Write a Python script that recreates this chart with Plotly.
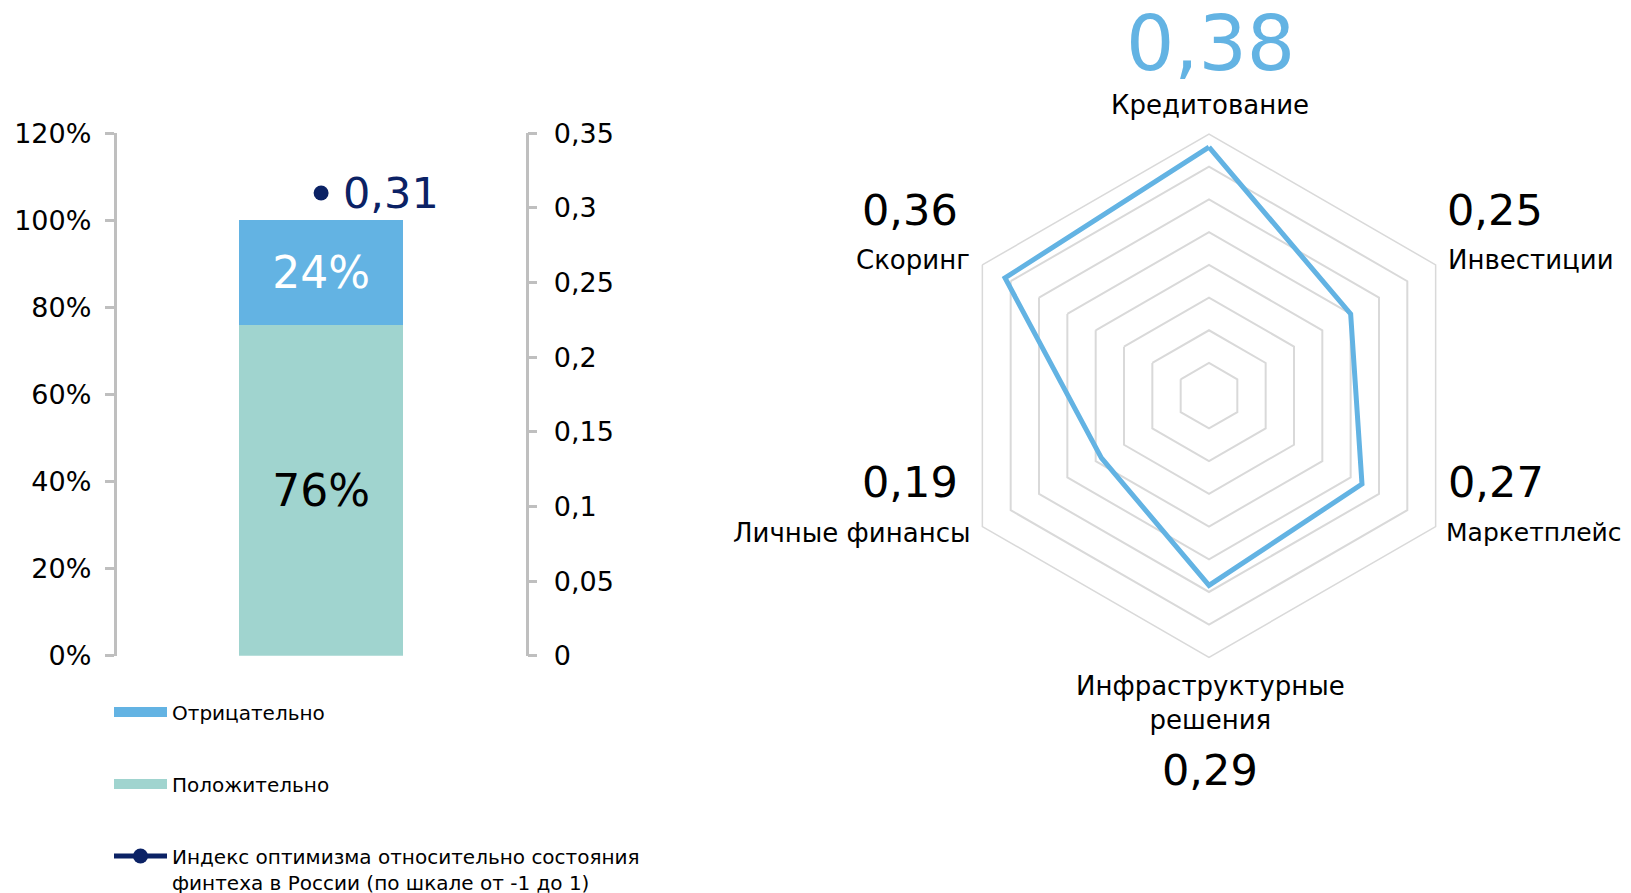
import plotly.graph_objects as go

# the page body has an 8px margin, so the figure is drawn 8px smaller and offset
OFF = 8
W, H = 1631 - OFF, 893 - OFF
FONT = "DejaVu Sans, Verdana, sans-serif"

# ---------------- data ----------------
bar_categories = ["Финтех"]
positive_share = [0.76]
negative_share = [0.24]
optimism_index = [0.31]

left_tickvals = [0, 0.2, 0.4, 0.6, 0.8, 1.0, 1.2]
left_ticktext = ["0%", "20%", "40%", "60%", "80%", "100%", "120%"]
right_tickvals = [0, 0.05, 0.1, 0.15, 0.2, 0.25, 0.3, 0.35]
right_ticktext = ["0", "0,05", "0,1", "0,15", "0,2", "0,25", "0,3", "0,35"]

radar_categories = ["Кредитование", "Инвестиции", "Маркетплейс",
                    "Инфраструктурные<br>решения", "Личные финансы", "Скоринг"]
radar_values = [0.38, 0.25, 0.27, 0.29, 0.19, 0.36]

legend_names = ["Отрицательно", "Положительно",
                "Индекс оптимизма относительно состояния<br>финтеха в России (по шкале от -1 до 1)"]

# ---------------- colours ----------------
C_NEG = "#63B3E3"
C_POS = "#A0D4CF"
C_NAVY = "#0B2265"
C_RADAR = "#63B3E3"
C_AXIS = "#BFBFBF"
C_GRID = "#D9D9D9"


def px_x(x):
    return (x - OFF) / W


def px_y(y):
    return 1 - (y - OFF) / H


def fmt(v):
    return f"{v:.2f}".replace(".", ",")


fig = go.Figure()

# stacked bars
fig.add_trace(go.Bar(
    x=bar_categories, y=positive_share, name=legend_names[1],
    marker=dict(color=C_POS, line=dict(width=0)), width=0.4,
    texttemplate="%{y:.0%}", textposition="inside", insidetextanchor="middle",
    textfont=dict(size=44, color="black", family=FONT),
    showlegend=False, hoverinfo="skip"))
fig.add_trace(go.Bar(
    x=bar_categories, y=negative_share, name=legend_names[0],
    marker=dict(color=C_NEG, line=dict(width=0)), width=0.4,
    texttemplate="%{y:.0%}", textposition="inside", insidetextanchor="middle",
    textfont=dict(size=44, color="white", family=FONT),
    showlegend=False, hoverinfo="skip"))

# optimism index on secondary axis
fig.add_trace(go.Scatter(
    x=bar_categories, y=optimism_index, yaxis="y2", name=legend_names[2],
    mode="lines+markers",
    marker=dict(color=C_NAVY, size=15), line=dict(color=C_NAVY, width=5),
    legendrank=3, legendgroup="c", hoverinfo="skip"))
for cat, val in zip(bar_categories, optimism_index):
    fig.add_annotation(x=cat, y=val, xref="x", yref="y2", text=fmt(val),
                       showarrow=False, xanchor="left", yanchor="middle", xshift=20,
                       font=dict(size=43, color=C_NAVY, family=FONT))

# legend proxies for the bars (wide flat swatches)
fig.add_trace(go.Scatter(x=[None], y=[None], mode="lines", name=legend_names[0],
                         line=dict(color=C_NEG, width=11), legendrank=1, legendgroup="a"))
fig.add_trace(go.Scatter(x=[None], y=[None], mode="lines", name=legend_names[1],
                         line=dict(color=C_POS, width=11), legendrank=2, legendgroup="b"))

# radar
fig.add_trace(go.Scatterpolar(
    r=radar_values + radar_values[:1], theta=radar_categories + radar_categories[:1],
    mode="lines", line=dict(color=C_RADAR, width=5), showlegend=False, hoverinfo="skip"))

fig.update_layout(
    width=W, height=H, margin=dict(l=0, r=0, t=0, b=0, autoexpand=False),
    paper_bgcolor="white", plot_bgcolor="white",
    separators=", ", barmode="stack",
    font=dict(family=FONT, color="black"),
    xaxis=dict(domain=[px_x(116.5), px_x(525.7)], showticklabels=False, showgrid=False,
               zeroline=False, showline=False, ticks="", range=[-0.5, 0.5]),
    yaxis=dict(domain=[px_y(655.7), px_y(133.3)], range=[0, 1.2],
               tickvals=left_tickvals, ticktext=left_ticktext,
               ticks="outside", ticklen=9, tickwidth=2.5, tickcolor=C_AXIS,
               showline=True, linecolor=C_AXIS, linewidth=2.5,
               showgrid=False, zeroline=False, tickfont=dict(size=27),
               ticklabelstandoff=8),
    yaxis2=dict(overlaying="y", side="right", anchor="x", range=[0, 0.35],
                tickvals=right_tickvals, ticktext=right_ticktext,
                ticks="outside", ticklen=9, tickwidth=2.5, tickcolor=C_AXIS,
                showline=True, linecolor=C_AXIS, linewidth=2.5,
                showgrid=False, zeroline=False, tickfont=dict(size=27),
                ticklabelstandoff=11),
    polar=dict(
        domain=dict(x=[px_x(947.3), px_x(1470.7)], y=[px_y(657.4), px_y(134.0)]),
        bgcolor="white", gridshape="linear",
        radialaxis=dict(range=[0, 0.4], dtick=0.05, showticklabels=False, ticks="",
                        showline=False, gridcolor=C_GRID, gridwidth=1.5),
        angularaxis=dict(rotation=90, direction="clockwise", showticklabels=False,
                         ticks="", showgrid=False, showline=True,
                         linecolor=C_GRID, linewidth=1.5),
    ),
    legend=dict(x=px_x(109), y=px_y(692.5), xanchor="left", yanchor="top",
                orientation="v", traceorder="grouped", tracegroupgap=43,
                itemwidth=53, valign="top", font=dict(size=20, family=FONT),
                bgcolor="rgba(0,0,0,0)"),
)

# radar labels: value position, category position, horizontal anchor, label size
label_layout = [
    dict(v=(1210, 43.7), c=(1210, 105), xa="center", big=True),
    dict(v=(1445, 210), c=(1446, 260), xa="left"),
    dict(v=(1446, 481.6), c=(1444, 532.6), xa="left", cs=25),
    dict(v=(1210, 769.7), c=(1210, 703), xa="center"),
    dict(v=(960, 481.6), c=(972, 532.6), xa="right"),
    dict(v=(960, 210), c=(972, 260), xa="right"),
]
for cat, val, lay in zip(radar_categories, radar_values, label_layout):
    big = lay.get("big", False)
    fig.add_annotation(x=px_x(lay["v"][0]), y=px_y(lay["v"][1]), xref="paper", yref="paper",
                       text=fmt(val), showarrow=False, xanchor=lay["xa"], yanchor="middle",
                       font=dict(size=76 if big else 43, color=C_RADAR if big else "black"))
    fig.add_annotation(x=px_x(lay["c"][0]), y=px_y(lay["c"][1]), xref="paper", yref="paper",
                       text=cat, showarrow=False, xanchor=lay["xa"], yanchor="middle",
                       font=dict(size=lay.get("cs", 26), color="black"))

fig.write_html("out.html")
